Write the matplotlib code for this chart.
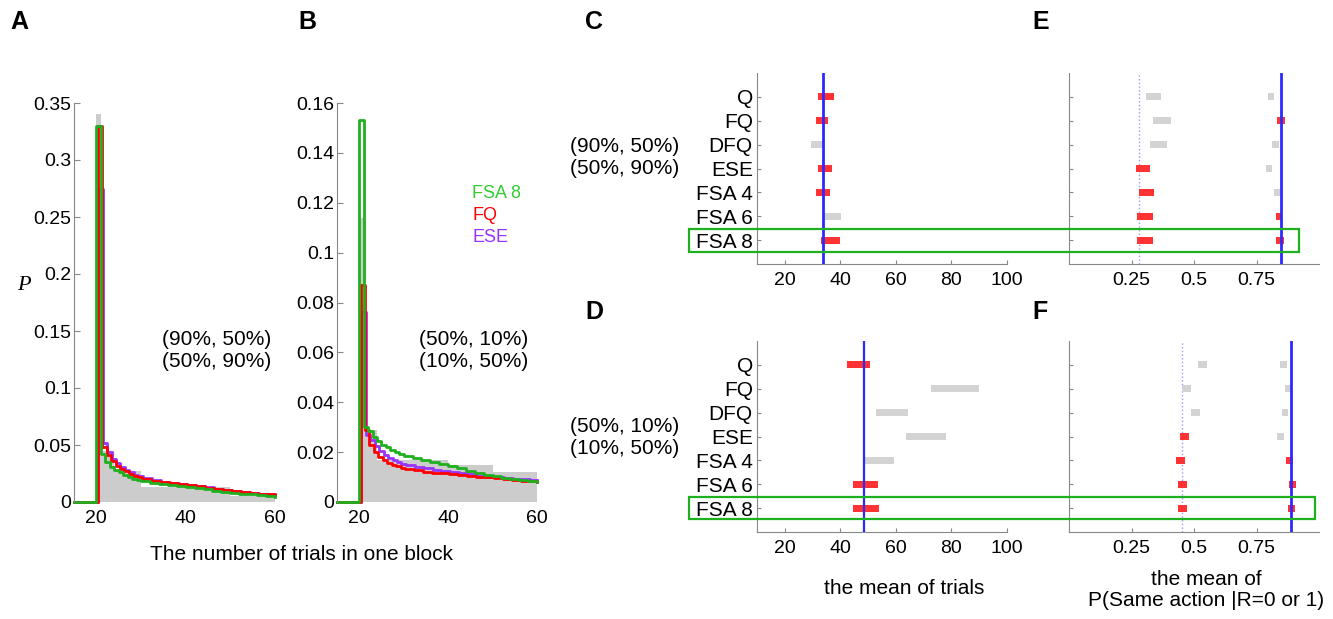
#!/usr/bin/env python3
"""
Block length distributions (A, B) and model comparison bars (C-F)
"""
import numpy as np
import matplotlib.pyplot as plt
from matplotlib.patches import Rectangle

plt.rcParams['font.family'] = ['Liberation Sans', 'DejaVu Sans']

# ---- data: distributions of the number of trials in one block ----
trials = [20, 21, 22, 23, 24, 25, 26, 27, 28, 29, 30,
          32, 34, 36, 38, 40, 42, 44, 46, 48, 50, 52, 54, 56, 58, 60]

a_fsa8 = [0.33, 0.042, 0.035, 0.031, 0.028, 0.026, 0.024, 0.022, 0.0205, 0.019, 0.018,
          0.0168, 0.0155, 0.0145, 0.0136, 0.0128, 0.012, 0.011, 0.0098, 0.0089, 0.0082,
          0.0074, 0.0066, 0.006, 0.0053, 0.0047]
a_fq = [0.33, 0.048, 0.041, 0.036, 0.032, 0.029, 0.027, 0.025, 0.023, 0.0215, 0.0198,
        0.0185, 0.0172, 0.0163, 0.0155, 0.0147, 0.0138, 0.0127, 0.0116, 0.0107, 0.0099,
        0.009, 0.0081, 0.0073, 0.0066, 0.006]
a_ese = [0.275, 0.052, 0.044, 0.038, 0.034, 0.031, 0.028, 0.026, 0.024, 0.0225, 0.021,
         0.019, 0.0177, 0.0167, 0.0158, 0.015, 0.014, 0.0129, 0.0118, 0.0108, 0.01,
         0.0091, 0.0082, 0.0074, 0.0067, 0.006]
a_gray_edges = [20, 21, 24, 30, 50, 60]
a_gray = [0.34, 0.045, 0.0275, 0.0134, 0.005]

b_fsa8 = [0.153, 0.030, 0.0285, 0.026, 0.0245, 0.023, 0.022, 0.021, 0.020, 0.0192, 0.0186,
          0.0176, 0.0167, 0.016, 0.0152, 0.0144, 0.0136, 0.0126, 0.0118, 0.011, 0.0104,
          0.0098, 0.0093, 0.0088, 0.0084, 0.0081]
b_fq = [0.087, 0.029, 0.023, 0.020, 0.018, 0.0168, 0.0158, 0.015, 0.0143, 0.0138, 0.0133,
        0.0127, 0.0121, 0.0118, 0.0115, 0.0112, 0.011, 0.0106, 0.0102, 0.0099, 0.0095,
        0.0092, 0.0089, 0.0086, 0.0083, 0.0081]
b_ese = [0.076, 0.027, 0.025, 0.0225, 0.0205, 0.019, 0.0178, 0.0168, 0.016, 0.0153, 0.0148,
         0.0141, 0.0135, 0.013, 0.0125, 0.012, 0.0116, 0.0111, 0.0106, 0.0102, 0.0099,
         0.0096, 0.0093, 0.0091, 0.0089, 0.0088]
b_gray_edges = [20, 21, 24, 40, 50, 60]
b_gray = [0.114, 0.029, 0.017, 0.015, 0.012]

# ---- data: model comparison (ranges of the mean) ----
models = ['Q', 'FQ', 'DFQ', 'ESE', 'FSA 4', 'FSA 6', 'FSA 8']

c_lo = [32.1, 31.1, 29.3, 31.8, 31.1, 33.9, 33.2]
c_hi = [37.9, 35.7, 33.6, 37.1, 36.1, 40.4, 40.0]
c_sig = [1, 1, 0, 1, 1, 0, 1]
c_ref = 33.6

d_lo = [42.5, 72.5, 52.9, 63.6, 48.6, 44.6, 44.6]
d_hi = [50.7, 90.0, 64.3, 77.9, 59.3, 53.6, 53.9]
d_sig = [1, 0, 0, 0, 0, 1, 1]
d_ref = 48.6

# E: P(same action | R=0) left group, R=1 right group
e0_lo = [0.306, 0.337, 0.325, 0.266, 0.278, 0.270, 0.270]
e0_hi = [0.369, 0.409, 0.393, 0.325, 0.341, 0.337, 0.337]
e0_sig = [0, 0, 0, 1, 1, 1, 1]
e1_lo = [0.794, 0.833, 0.813, 0.786, 0.821, 0.829, 0.829]
e1_hi = [0.821, 0.865, 0.841, 0.813, 0.845, 0.853, 0.861]
e1_sig = [0, 1, 0, 0, 0, 1, 1]
e_ref0, e_ref1 = 0.278, 0.849

f0_lo = [0.516, 0.452, 0.488, 0.444, 0.429, 0.437, 0.437]
f0_hi = [0.552, 0.488, 0.524, 0.480, 0.464, 0.472, 0.472]
f0_sig = [0, 0, 0, 1, 1, 1, 1]
f1_lo = [0.845, 0.865, 0.853, 0.833, 0.869, 0.881, 0.877]
f1_hi = [0.873, 0.889, 0.877, 0.861, 0.897, 0.909, 0.905]
f1_sig = [0, 0, 0, 0, 1, 1, 1]
f_ref0, f_ref1 = 0.452, 0.889

GREEN = '#1fb01f'
RED = '#ff0000'
PURPLE = '#9933ff'
GRAY = '#cccccc'
BAR_RED = '#ff3333'
BAR_GRAY = '#d3d3d3'
SPINE = '#888888'
FS = 15       # labels
FS_TICK = 14  # tick labels

W, H = 1333, 619
fig = plt.figure(figsize=(W / 100, H / 100), dpi=100)


def px_axes(left, top, right, bottom):
    return fig.add_axes([left / W, 1 - bottom / H, (right - left) / W, (bottom - top) / H])


def style_dist(ax, ymax, yticks):
    for s in ['top', 'right', 'bottom']:
        ax.spines[s].set_visible(False)
    ax.spines['left'].set_color(SPINE)
    ax.set_xlim(15, 60)
    ax.set_ylim(0, ymax)
    ax.set_xticks([20, 40, 60])
    ax.set_yticks(yticks)
    ax.set_yticklabels([f'{v:g}' for v in yticks])
    ax.tick_params(axis='x', length=0, pad=6, labelsize=FS_TICK)
    ax.tick_params(axis='y', direction='in', length=4, color=SPINE, pad=2, labelsize=FS_TICK)


def plot_dist(ax, gray_edges, gray, series):
    ax.stairs(gray, gray_edges, fill=True, color=GRAY, lw=0, zorder=1)
    for vals, color, off in series:
        x = np.minimum(np.array(trials, dtype=float) + off, 60)
        x = np.concatenate([[15], x])
        y = np.concatenate([[0], vals])
        ax.step(x, y, where='post', color=color, lw=2, clip_on=False, zorder=2)


# A
axA = px_axes(74, 103, 275, 502)
plot_dist(axA, a_gray_edges, a_gray,
          [(a_ese, PURPLE, 0.4), (a_fq, RED, 0.3), (a_fsa8, GREEN, 0.0)])
style_dist(axA, 0.35, [0, 0.05, 0.1, 0.15, 0.2, 0.25, 0.3, 0.35])
axA.text(0.98, 0.38, '(90%, 50%)\n(50%, 90%)', transform=axA.transAxes,
         ha='right', va='center', fontsize=FS, linespacing=1.2)

# B
axB = px_axes(337, 103, 537, 502)
plot_dist(axB, b_gray_edges, b_gray,
          [(b_ese, PURPLE, 0.5), (b_fq, RED, 0.3), (b_fsa8, GREEN, 0.0)])
style_dist(axB, 0.16, [0, 0.02, 0.04, 0.06, 0.08, 0.1, 0.12, 0.14, 0.16])
axB.text(0.955, 0.38, '(50%, 10%)\n(10%, 50%)', transform=axB.transAxes,
         ha='right', va='center', fontsize=FS, linespacing=1.2)
for i, (name, color) in enumerate([('FSA 8', '#33cc33'), ('FQ', RED), ('ESE', PURPLE)]):
    fig.text(472 / W, 1 - (193 + 22.5 * i) / H, name, color=color, fontsize=13,
             ha='left', va='center')

fig.text(301 / W, 1 - 555 / H, 'The number of trials in one block', fontsize=FS,
         ha='center', va='center')
fig.text(24 / W, 1 - 285 / H, 'P', fontsize=16, style='italic',
         family=['Liberation Serif', 'DejaVu Serif'], ha='center', va='center')


def style_bars(ax, xlim, xticks, xlabels, show_names):
    for s in ['top', 'right']:
        ax.spines[s].set_visible(False)
    for s in ['left', 'bottom']:
        ax.spines[s].set_color(SPINE)
    ax.set_xlim(*xlim)
    ax.set_ylim(8, 0)
    ax.set_xticks(xticks)
    ax.set_xticklabels(xlabels)
    ax.set_yticks(range(1, 8))
    ax.set_yticklabels(models if show_names else [])
    ax.tick_params(direction='in', length=3, color=SPINE)
    ax.tick_params(axis='x', pad=6, labelsize=FS_TICK)
    ax.tick_params(axis='y', pad=3, labelsize=FS)


def draw_ranges(ax, lo, hi, sig):
    rows = np.arange(1, 8)
    colors = [BAR_RED if s else BAR_GRAY for s in sig]
    ax.barh(rows, np.array(hi) - np.array(lo), left=lo, height=0.3,
            color=colors, zorder=2)


# C
axC = px_axes(757, 73, 1007, 264)
draw_ranges(axC, c_lo, c_hi, c_sig)
axC.axvline(c_ref, color='#2a2aff', lw=2, zorder=3)
style_bars(axC, (10, 100), [20, 40, 60, 80, 100], ['20', '40', '60', '80', '100'], True)

# D
axD = px_axes(757, 341, 1007, 532)
draw_ranges(axD, d_lo, d_hi, d_sig)
axD.axvline(d_ref, color='#2a2aff', lw=1.6, zorder=3)
style_bars(axD, (10, 100), [20, 40, 60, 80, 100], ['20', '40', '60', '80', '100'], True)

# E
axE = px_axes(1069, 73, 1319, 264)
draw_ranges(axE, e0_lo, e0_hi, e0_sig)
draw_ranges(axE, e1_lo, e1_hi, e1_sig)
axE.axvline(e_ref0, color='#9a9aff', lw=1, ls=':', zorder=1)
axE.axvline(e_ref1, color='#2a2aff', lw=2, zorder=3)
style_bars(axE, (0, 1), [0.25, 0.5, 0.75], ['0.25', '0.5', '0.75'], False)

# F
axF = px_axes(1069, 341, 1319, 532)
draw_ranges(axF, f0_lo, f0_hi, f0_sig)
draw_ranges(axF, f1_lo, f1_hi, f1_sig)
axF.axvline(f_ref0, color='#9a9aff', lw=1, ls=':', zorder=1)
axF.axvline(f_ref1, color='#2a2aff', lw=2, zorder=3)
style_bars(axF, (0, 1), [0.25, 0.5, 0.75], ['0.25', '0.5', '0.75'], False)

# condition labels next to C and D
fig.text(625 / W, 1 - 157 / H, '(90%, 50%)\n(50%, 90%)', fontsize=FS,
         ha='center', va='center', linespacing=1.2)
fig.text(625 / W, 1 - 438 / H, '(50%, 10%)\n(10%, 50%)', fontsize=FS,
         ha='center', va='center', linespacing=1.2)

fig.text(904 / W, 1 - 588 / H, 'the mean of trials', fontsize=FS, ha='center', va='center')
fig.text(1206 / W, 1 - 590 / H, 'the mean of\nP(Same action |R=0 or 1)', fontsize=FS,
         ha='center', va='center', linespacing=1.15)

# highlight boxes for FSA 8
for x0, y0, x1, y1 in [(689, 229, 1299, 252), (689, 497, 1315, 519)]:
    fig.patches.append(Rectangle((x0 / W, 1 - y1 / H), (x1 - x0) / W, (y1 - y0) / H,
                                 transform=fig.transFigure, fill=False,
                                 edgecolor=GREEN, lw=1.6, zorder=5))

# panel letters
for letter, x, y in [('A', 10, 22), ('B', 298, 22), ('C', 585, 22),
                     ('E', 1032, 22), ('D', 585, 312), ('F', 1032, 312)]:
    fig.text(x / W, 1 - y / H, letter, fontsize=18, fontweight='bold',
             ha='left', va='center')

fig.savefig('out.png', dpi=100)
